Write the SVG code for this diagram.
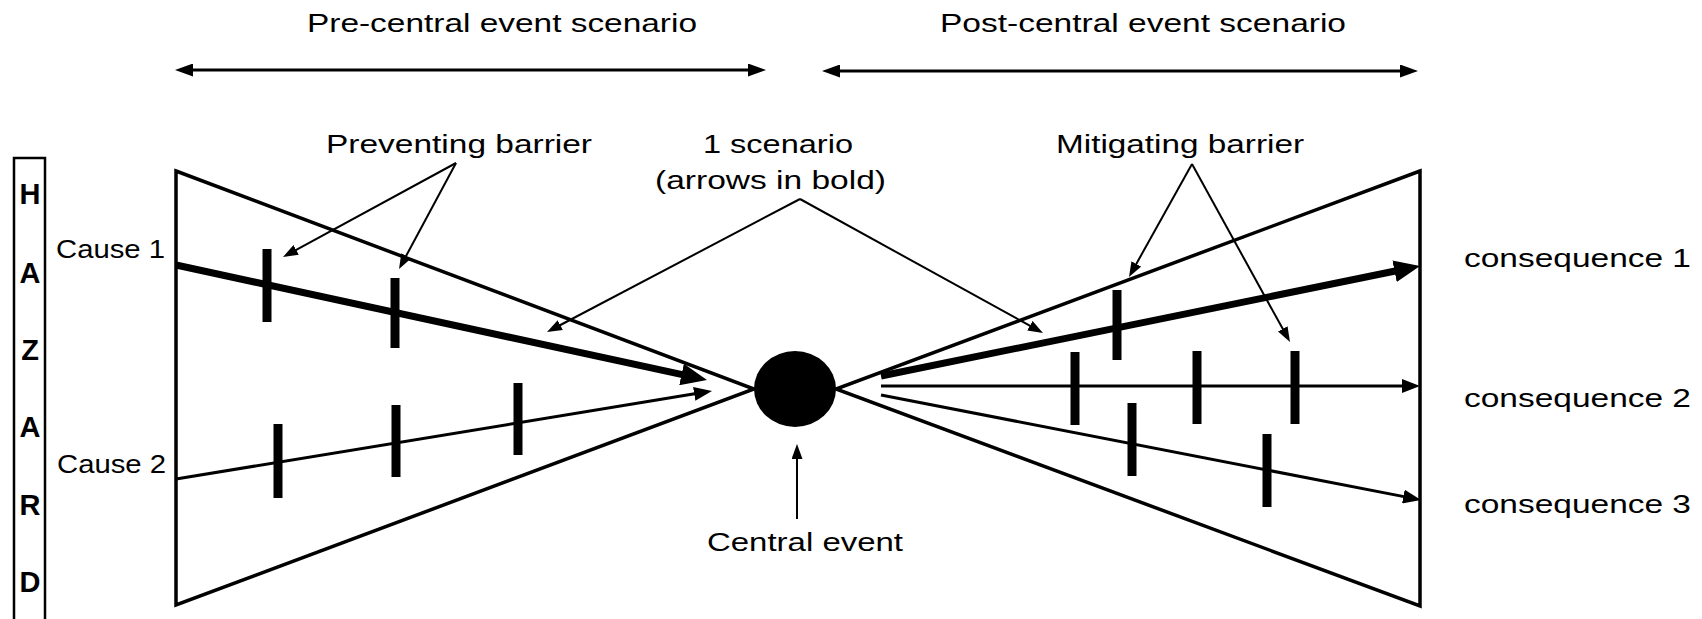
<svg xmlns="http://www.w3.org/2000/svg" width="1702" height="619" viewBox="0 0 1702 619">
<defs>
<style>
text{font-family:"Liberation Sans",Arial,sans-serif;font-size:26px;fill:#000}
.hz{font-weight:bold;font-size:29px;text-anchor:middle}
.edge{fill:none;stroke:#000;stroke-width:3.5;stroke-linejoin:miter}
.bold{stroke:#000;stroke-width:7;fill:none}
.thin{stroke:#000;stroke-width:3;fill:none}
.ptr{stroke:#000;stroke-width:2;fill:none}
.bar{stroke:#000;stroke-width:9;fill:none}
</style>
<marker id="ahb" markerUnits="userSpaceOnUse" markerWidth="27" markerHeight="22" refX="2" refY="11" orient="auto"><path d="M0,0 L26,11 L0,22 z" fill="#000"/></marker>
<marker id="aht" markerUnits="userSpaceOnUse" markerWidth="18" markerHeight="14" refX="2" refY="7" orient="auto"><path d="M0,0 L18,7 L0,14 z" fill="#000"/></marker>
<marker id="ahs" markerUnits="userSpaceOnUse" markerWidth="15" markerHeight="11" refX="2" refY="5.5" orient="auto"><path d="M0,0 L15,5.5 L0,11 z" fill="#000"/></marker>
<marker id="ahd" markerUnits="userSpaceOnUse" markerWidth="18" markerHeight="13" refX="2" refY="6.5" orient="auto-start-reverse"><path d="M0,0 L18,6.5 L0,13 z" fill="#000"/></marker>
</defs>
<rect width="1702" height="619" fill="#fff"/>

<g id="header-pre">
<text x="307" y="32" textLength="390" lengthAdjust="spacingAndGlyphs">Pre-central event scenario</text>
</g>
<g id="header-post">
<text x="940" y="32" textLength="406" lengthAdjust="spacingAndGlyphs">Post-central event scenario</text>
</g>

<g id="hazard">
<rect x="14" y="158" width="31" height="470" fill="none" stroke="#000" stroke-width="2.5"/>
<text class="hz" x="30" y="204">H</text>
<text class="hz" x="30" y="283">A</text>
<text class="hz" x="30" y="360">Z</text>
<text class="hz" x="30" y="437">A</text>
<text class="hz" x="30" y="515">R</text>
<text class="hz" x="30" y="592">D</text>
</g>

<g id="pre-triangle">
<polygon class="edge" points="176,171 754,389 176,605"/>
</g>
<g id="post-triangle">
<polygon class="edge" points="1420,171 836,389 1420,606"/>
</g>

<g id="central-event">
<ellipse cx="795" cy="389" rx="41" ry="38" fill="#000"/>
<text x="707" y="551" textLength="196" lengthAdjust="spacingAndGlyphs">Central event</text>
</g>

<g id="cause1"><text x="56" y="258" textLength="109" lengthAdjust="spacingAndGlyphs">Cause 1</text></g>
<g id="cause2"><text x="57" y="473" textLength="109" lengthAdjust="spacingAndGlyphs">Cause 2</text></g>
<g id="consequence1"><text x="1464" y="267" textLength="227" lengthAdjust="spacingAndGlyphs">consequence 1</text></g>
<g id="consequence2"><text x="1464" y="407" textLength="227" lengthAdjust="spacingAndGlyphs">consequence 2</text></g>
<g id="consequence3"><text x="1464" y="513" textLength="227" lengthAdjust="spacingAndGlyphs">consequence 3</text></g>

<g id="label-preventing"><text x="326" y="153" textLength="266" lengthAdjust="spacingAndGlyphs">Preventing barrier</text></g>
<g id="label-scenario">
<text x="703" y="153" textLength="150" lengthAdjust="spacingAndGlyphs">1 scenario</text>
<text x="655" y="189" textLength="231" lengthAdjust="spacingAndGlyphs">(arrows in bold)</text>
</g>
<g id="label-mitigating"><text x="1056" y="153" textLength="248" lengthAdjust="spacingAndGlyphs">Mitigating barrier</text></g>

<g id="barriers">
<line class="bar" x1="267" y1="249" x2="267" y2="322"/>
<line class="bar" x1="395" y1="278" x2="395" y2="348"/>
<line class="bar" x1="278" y1="424" x2="278" y2="498"/>
<line class="bar" x1="396" y1="405" x2="396" y2="477"/>
<line class="bar" x1="518" y1="383" x2="518" y2="455"/>
<line class="bar" x1="1117" y1="290" x2="1117" y2="360"/>
<line class="bar" x1="1075" y1="352" x2="1075" y2="425"/>
<line class="bar" x1="1197" y1="351" x2="1197" y2="424"/>
<line class="bar" x1="1295" y1="351" x2="1295" y2="424"/>
<line class="bar" x1="1132" y1="403" x2="1132" y2="476"/>
<line class="bar" x1="1267" y1="434" x2="1267" y2="507"/>
</g>

<g id="connectors">
<line class="thin" x1="191" y1="70" x2="750" y2="70" marker-start="url(#ahd)" marker-end="url(#ahd)"/>
<line class="thin" x1="838" y1="71" x2="1402" y2="71" marker-start="url(#ahd)" marker-end="url(#ahd)"/>
<line class="bold" x1="176" y1="265" x2="683.5" y2="374.9" marker-end="url(#ahb)"/>
<line class="thin" x1="176" y1="479" x2="696.2" y2="393.6" marker-end="url(#aht)"/>
<line class="bold" x1="881" y1="376" x2="1396.5" y2="270.8" marker-end="url(#ahb)"/>
<line class="thin" x1="881" y1="386" x2="1404" y2="386" marker-end="url(#aht)"/>
<line class="thin" x1="881" y1="395" x2="1405.3" y2="496.9" marker-end="url(#aht)"/>
<line class="ptr" x1="456" y1="163" x2="294.4" y2="250.8" marker-end="url(#ahs)"/>
<line class="ptr" x1="456" y1="163" x2="405.2" y2="257.6" marker-end="url(#ahs)"/>
<line class="ptr" x1="800" y1="199" x2="558.5" y2="326" marker-end="url(#ahs)"/>
<line class="ptr" x1="800" y1="199" x2="1031.6" y2="326.7" marker-end="url(#ahs)"/>
<line class="ptr" x1="1192" y1="164" x2="1135.3" y2="265.7" marker-end="url(#ahs)"/>
<line class="ptr" x1="1192" y1="164" x2="1283.7" y2="330.6" marker-end="url(#ahs)"/>
<line class="ptr" x1="797" y1="519" x2="797" y2="457" marker-end="url(#ahs)"/>
</g>
</svg>
